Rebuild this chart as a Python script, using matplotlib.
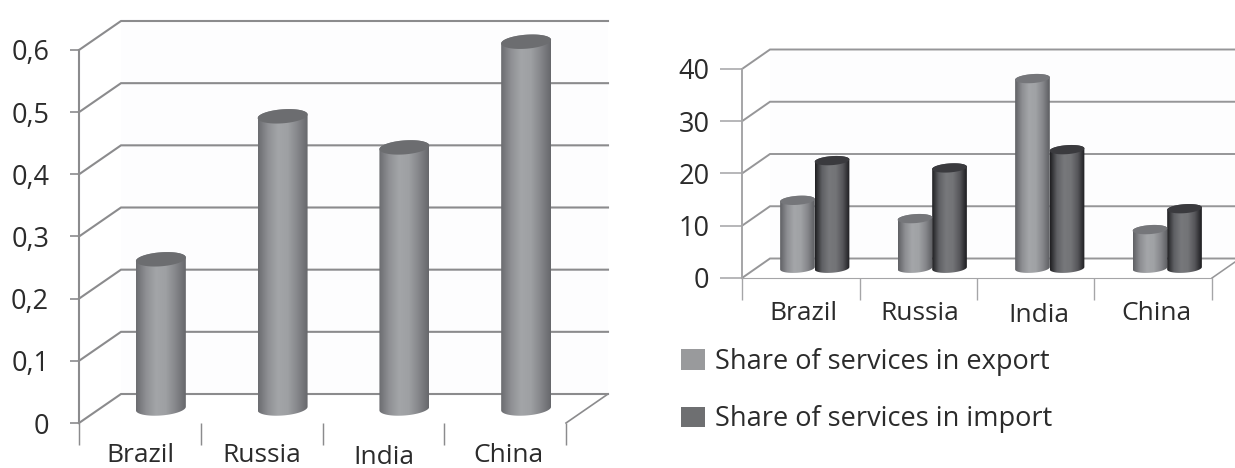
import numpy as np
import matplotlib
matplotlib.use("Agg")
import matplotlib.pyplot as plt
from matplotlib.patches import Patch, PathPatch, Polygon
from matplotlib.path import Path
from matplotlib.colors import LinearSegmentedColormap

W, H = 1235, 468

# data
categories = ["Brazil", "Russia", "India", "China"]
gdp_share = [0.24, 0.47, 0.42, 0.59]
left_ticks = [0, 0.1, 0.2, 0.3, 0.4, 0.5, 0.6]
left_tick_labels = ["0", "0,1", "0,2", "0,3", "0,4", "0,5", "0,6"]

export_share = [13, 9.5, 36.3, 7.4]
import_share = [20.6, 19.2, 22.7, 11.4]
right_ticks = [0, 10, 20, 30, 40]
right_tick_labels = ["0", "10", "20", "30", "40"]

FONT = "Open Sans"
TEXT = "#2b2b2b"

light_cmap = LinearSegmentedColormap.from_list(
    "light", ["#5f6064", "#8d8e92", "#a4a6a9", "#a0a2a5", "#85868a", "#5c5d61"])
dark_cmap = LinearSegmentedColormap.from_list(
    "dark", ["#1f1f22", "#5f6064", "#77787b", "#737477", "#56565a", "#1c1c1f"])
mid_cmap = LinearSegmentedColormap.from_list(
    "mid", ["#6b6c70", "#8f9094", "#a3a5a8", "#9ea0a3", "#85868a", "#66676b"])


def make_axes(fig, x0, x1, y_zero, y_top, ymax):
    ax = fig.add_axes([x0 / W, 1 - y_zero / H, (x1 - x0) / W, (y_zero - y_top) / H])
    ax.patch.set_visible(False)
    ax.set_xlim(0, 4)
    ax.set_ylim(0, ymax)
    return ax


def cylinder(fig, ax, xc, value, width, base, cmap, cap, half_h, tilt):
    # half_h and tilt are given in value units so the cap follows the y scale
    t = np.linspace(0, np.pi, 60)
    a = width / 2
    top_x = xc + a * np.cos(t)
    top_y = base + value + half_h * np.sin(t) + tilt * np.cos(t)
    bot_x = xc - a * np.cos(t)
    bot_y = base - half_h * np.sin(t) - tilt * np.cos(t)
    outline = np.column_stack([np.r_[top_x, bot_x], np.r_[top_y, bot_y]])
    body = Polygon(outline, closed=True, transform=ax.transData, fill=False, lw=0)
    ax.add_patch(body)

    grad = np.linspace(0, 1, 128).reshape(1, -1)
    im = ax.imshow(grad, cmap=cmap, aspect="auto", interpolation="bilinear",
                   extent=(xc - a, xc + a, base - 2 * half_h, base + value + 2 * half_h),
                   zorder=3)
    im.set_clip_path(body)
    im.set_clip_box(fig.bbox)

    s = np.linspace(0, 2 * np.pi, 120)
    cap_xy = np.column_stack([xc + a * np.cos(s),
                              base + value + half_h * np.sin(s) + tilt * np.cos(s)])
    ax.add_patch(PathPatch(Path(cap_xy), facecolor=cap, edgecolor="none",
                           clip_on=False, zorder=3.5))


def walls(ax, ymax, ticks, labels, dx, dy, grid_c, spine_c, lw, tick_len, pad, back_end):
    # faint back wall behind the gridlines
    ax.fill([dx, back_end, back_end, dx], [dy, dy, ymax + dy, ymax + dy],
            color="#fdfdfe", lw=0, clip_on=False, zorder=0)
    for v in ticks:
        ax.plot([0, dx, back_end], [v, v + dy, v + dy], color=grid_c, lw=lw,
                clip_on=False, solid_joinstyle="miter", zorder=1)
    ax.plot([4, 4 + dx], [0, dy], color=grid_c, lw=lw * 0.8, clip_on=False, zorder=1)

    for side in ["top", "right"]:
        ax.spines[side].set_visible(False)
    ax.spines["left"].set_color(spine_c)
    ax.spines["left"].set_linewidth(lw)
    ax.spines["bottom"].set_color(spine_c)
    ax.set_yticks(ticks)
    ax.set_yticklabels(labels, fontfamily=FONT, fontsize=19.5, color=TEXT)
    ax.tick_params(axis="y", length=tick_len, width=lw * 0.8, color=spine_c, pad=pad)
    ax.set_xticks([0, 1, 2, 3, 4])
    ax.set_xticklabels([])
    ax.tick_params(axis="x", length=15.5, width=lw * 0.7, color=spine_c)


def category_labels(ax, offsets, y_px, india_drop):
    for i, (name, off) in enumerate(zip(categories, offsets)):
        ax.annotate(name, xy=(i + 0.5, 0), xycoords=ax.get_xaxis_transform(),
                    xytext=(off, y_px - (india_drop if name == "India" else 0)),
                    textcoords="offset pixels", ha="center", va="center",
                    fontfamily=FONT, fontsize=19, color=TEXT, annotation_clip=False)


fig = plt.figure(figsize=(W / 100, H / 100), dpi=100, facecolor="white")

# left chart
ax1 = make_axes(fig, 79, 566, 423, 50, 0.6)
dx1 = 42 / (487 / 4)
dy1 = 29 / (373 / 0.6)
walls(ax1, 0.6, left_ticks, left_tick_labels, dx1, dy1, "#8b8b8d", "#8b8b8d", 1.5,
      6.5, 15, 4 + dx1)
ax1.spines["bottom"].set_visible(False)
for i, v in enumerate(gdp_share):
    cylinder(fig, ax1, i + 0.5 + dx1 / 2, v, 0.41, dy1 / 2, mid_cmap, "#6c6d70",
             7 / 621.7, 1.8 / 621.7)
ax1.set_xlim(0, 4)
ax1.set_ylim(0, 0.6)
category_labels(ax1, [1, 0, 0, 3], -33, 1)

# right chart
ax2 = make_axes(fig, 742, 1212, 278, 69, 40)
dx2 = 28 / (470 / 4)
dy2 = 19.5 / (209 / 40)
walls(ax2, 40, right_ticks, right_tick_labels, dx2, dy2, "#969698", "#a5a5a7", 1.4,
      15.5, 8, 4 + dx2)
for i, (e, m) in enumerate(zip(export_share, import_share)):
    xc = i + 0.5 + dx2 / 2
    cylinder(fig, ax2, xc - 0.147, e, 0.295, dy2 / 2, light_cmap, "#75767a",
             4.5 / 5.225, 1.2 / 5.225)
    cylinder(fig, ax2, xc + 0.147, m, 0.295, dy2 / 2, dark_cmap, "#3a3a3e",
             4.5 / 5.225, 1.2 / 5.225)
ax2.set_xlim(0, 4)
ax2.set_ylim(0, 40)
category_labels(ax2, [3, 2, 3, 3], -36, 2)

# legend
handles = [Patch(facecolor="#999a9c", edgecolor="none", label="Share of services in export"),
           Patch(facecolor="#6e6f71", edgecolor="none", label="Share of services in import")]
fig.legend(handles=handles, loc="upper left",
           bbox_to_anchor=(673 / W, 1 - 340 / H), frameon=False,
           prop={"family": FONT, "size": 19.5}, labelcolor=TEXT,
           handlelength=0.88, handleheight=0.8, handletextpad=0.37,
           labelspacing=1.08, borderpad=0.3, borderaxespad=0)

fig.savefig("out.png", dpi=100, facecolor="white")
